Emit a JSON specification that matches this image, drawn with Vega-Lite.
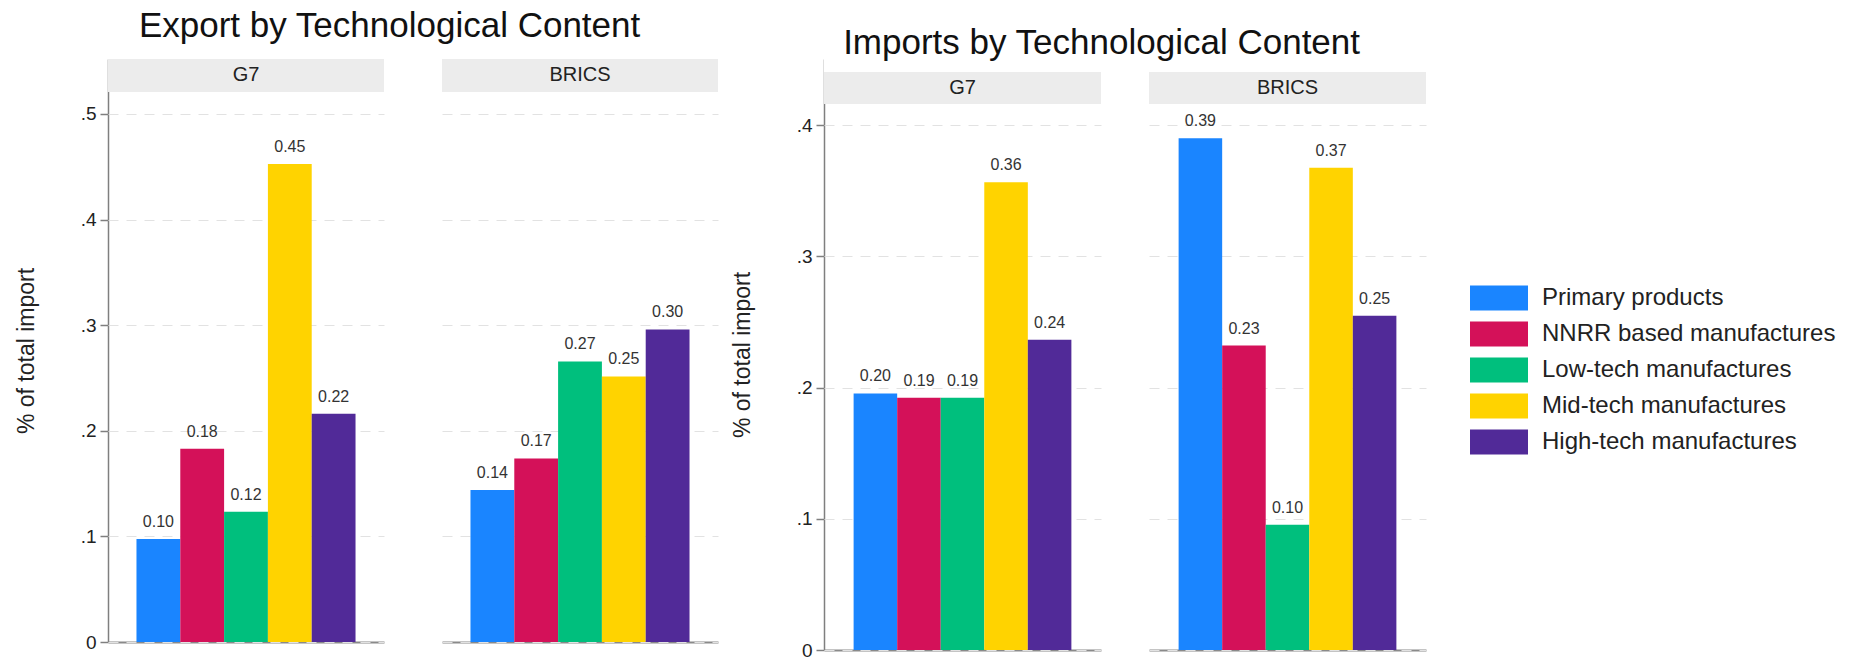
{
  "$schema": "https://vega.github.io/schema/vega-lite/v6.json",
  "padding": {"left": 15, "top": 9, "right": 5, "bottom": 2},
  "background": "white",
  "spacing": 13,
  "config": {
    "view": {"stroke": null},
    "font": "Liberation Sans"
  },
  "datasets": {
    "exports": [
      {"group": "G7", "category": "Primary products", "share": 0.0975},
      {"group": "G7", "category": "NNRR based manufactures", "share": 0.183},
      {"group": "G7", "category": "Low-tech manufactures", "share": 0.1233},
      {"group": "G7", "category": "Mid-tech manufactures", "share": 0.4527},
      {"group": "G7", "category": "High-tech manufactures", "share": 0.216},
      {"group": "BRICS", "category": "Primary products", "share": 0.144},
      {"group": "BRICS", "category": "NNRR based manufactures", "share": 0.1738},
      {"group": "BRICS", "category": "Low-tech manufactures", "share": 0.2657},
      {"group": "BRICS", "category": "Mid-tech manufactures", "share": 0.2514},
      {"group": "BRICS", "category": "High-tech manufactures", "share": 0.296}
    ],
    "imports": [
      {"group": "G7", "category": "Primary products", "share": 0.1955},
      {"group": "G7", "category": "NNRR based manufactures", "share": 0.1923},
      {"group": "G7", "category": "Low-tech manufactures", "share": 0.1922},
      {"group": "G7", "category": "Mid-tech manufactures", "share": 0.3564},
      {"group": "G7", "category": "High-tech manufactures", "share": 0.2365},
      {"group": "BRICS", "category": "Primary products", "share": 0.390},
      {"group": "BRICS", "category": "NNRR based manufactures", "share": 0.232},
      {"group": "BRICS", "category": "Low-tech manufactures", "share": 0.0955},
      {"group": "BRICS", "category": "Mid-tech manufactures", "share": 0.3676},
      {"group": "BRICS", "category": "High-tech manufactures", "share": 0.2548}
    ]
  },
  "hconcat": [
    {
      "title": {"text": "Export by Technological Content", "fontSize": 35, "font": "Liberation Sans", "fontWeight": "normal", "color": "#111", "anchor": "middle", "dx": 23, "offset": 15},
      "data": {"name": "exports"},
      "facet": {"column": {"field": "group", "type": "nominal", "sort": ["G7", "BRICS"], "header": {"labels": false, "title": null, "labelPadding": 0, "titlePadding": 0}}},
      "spacing": {"column": 58},
      "spec": {
        "width": 276,
        "height": 583,
        "layer": [
          {
            "mark": {"type": "bar"},
            "encoding": {
              "x": {"field": "category", "type": "nominal", "sort": ["Primary products", "NNRR based manufactures", "Low-tech manufactures", "Mid-tech manufactures", "High-tech manufactures"], "scale": {"paddingInner": 0, "paddingOuter": 0.65}, "axis": {"labels": false, "ticks": false, "title": null, "domain": true, "domainColor": "#8a8a8a", "domainWidth": 2, "grid": false}},
              "y": {"field": "share", "type": "quantitative", "scale": {"domain": [0, 0.552], "nice": false}, "axis": {"title": "% of total import", "values": [0, 0.1, 0.2, 0.3, 0.4, 0.5], "labelExpr": "datum.value == 0 ? '0' : replace(format(datum.value, '.1f'), '0.', '.')", "grid": true, "gridDash": [10, 8], "gridColor": "#e2e2e2", "domainColor": "#7f7f7f", "domainWidth": 1.5, "tickColor": "#7f7f7f", "tickSize": 8, "tickWidth": 1.5, "labelFontSize": 19, "labelFont": "Liberation Sans", "labelColor": "#222", "labelPadding": 4, "titleFontSize": 23, "titleFont": "Liberation Sans", "titleFontWeight": "normal", "titleColor": "#222", "titlePadding": 42}},
              "color": {"field": "category", "type": "nominal", "scale": {"domain": ["Primary products", "NNRR based manufactures", "Low-tech manufactures", "Mid-tech manufactures", "High-tech manufactures"], "range": ["#1A85FF", "#D41159", "#00BF7D", "#FFD300", "#512A98"]}, "legend": {"orient": "none", "legendX": 1362, "legendY": 221, "title": null, "symbolType": "M-1,-0.431H1V0.431H-1Z", "symbolSize": 3364, "symbolStrokeWidth": 0, "symbolOpacity": 1, "labelFontSize": 24, "labelFont": "Liberation Sans", "labelColor": "#222", "labelOffset": 14, "labelLimit": 500, "rowPadding": 0, "clipHeight": 36, "padding": 0}}
            }
          },
          {
            "mark": {"type": "text", "baseline": "alphabetic", "dy": -12, "fontSize": 16, "font": "Liberation Sans", "color": "#333"},
            "encoding": {
              "x": {"field": "category", "type": "nominal", "sort": ["Primary products", "NNRR based manufactures", "Low-tech manufactures", "Mid-tech manufactures", "High-tech manufactures"]},
              "y": {"field": "share", "type": "quantitative"},
              "text": {"field": "share", "type": "quantitative", "format": ".2f"}
            }
          },
          {
            "transform": [{"aggregate": [{"op": "count", "as": "n"}], "groupby": ["group"]}],
            "mark": {"type": "rect", "color": "#ececec"},
            "encoding": {"y": {"datum": 0.5208}, "y2": {"datum": 0.552}}
          },
          {
            "transform": [{"aggregate": [{"op": "count", "as": "n"}], "groupby": ["group"]}],
            "mark": {"type": "text", "fontSize": 20, "font": "Liberation Sans", "color": "#222", "baseline": "middle"},
            "encoding": {"y": {"datum": 0.5364}, "text": {"field": "group"}}
          }
        ]
      }
    },
    {
      "title": {"text": "Imports by Technological Content", "fontSize": 35, "font": "Liberation Sans", "fontWeight": "normal", "color": "#111", "anchor": "middle", "dx": 23, "offset": -2},
      "data": {"name": "imports"},
      "facet": {"column": {"field": "group", "type": "nominal", "sort": ["G7", "BRICS"], "header": {"labels": false, "title": null, "labelPadding": 0, "titlePadding": 0}}},
      "spacing": {"column": 48},
      "spec": {
        "width": 277,
        "height": 591,
        "layer": [
          {
            "mark": {"type": "bar"},
            "encoding": {
              "x": {"field": "category", "type": "nominal", "sort": ["Primary products", "NNRR based manufactures", "Low-tech manufactures", "Mid-tech manufactures", "High-tech manufactures"], "scale": {"paddingInner": 0, "paddingOuter": 0.68}, "axis": {"labels": false, "ticks": false, "title": null, "domain": true, "domainColor": "#8a8a8a", "domainWidth": 2, "grid": false}},
              "y": {"field": "share", "type": "quantitative", "scale": {"domain": [0, 0.4504], "nice": false}, "axis": {"title": "% of total import", "values": [0, 0.1, 0.2, 0.3, 0.4], "labelExpr": "datum.value == 0 ? '0' : replace(format(datum.value, '.1f'), '0.', '.')", "grid": true, "gridDash": [10, 8], "gridColor": "#e2e2e2", "domainColor": "#7f7f7f", "domainWidth": 1.5, "tickColor": "#7f7f7f", "tickSize": 8, "tickWidth": 1.5, "labelFontSize": 19, "labelFont": "Liberation Sans", "labelColor": "#222", "labelPadding": 4, "titleFontSize": 23, "titleFont": "Liberation Sans", "titleFontWeight": "normal", "titleColor": "#222", "titlePadding": 42}},
              "color": {"field": "category", "type": "nominal", "scale": {"domain": ["Primary products", "NNRR based manufactures", "Low-tech manufactures", "Mid-tech manufactures", "High-tech manufactures"], "range": ["#1A85FF", "#D41159", "#00BF7D", "#FFD300", "#512A98"]}, "legend": {"orient": "none", "legendX": 1362, "legendY": 221, "title": null, "symbolType": "M-1,-0.431H1V0.431H-1Z", "symbolSize": 3364, "symbolStrokeWidth": 0, "symbolOpacity": 1, "labelFontSize": 24, "labelFont": "Liberation Sans", "labelColor": "#222", "labelOffset": 14, "labelLimit": 500, "rowPadding": 0, "clipHeight": 36, "padding": 0}}
            }
          },
          {
            "mark": {"type": "text", "baseline": "alphabetic", "dy": -12, "fontSize": 16, "font": "Liberation Sans", "color": "#333"},
            "encoding": {
              "x": {"field": "category", "type": "nominal", "sort": ["Primary products", "NNRR based manufactures", "Low-tech manufactures", "Mid-tech manufactures", "High-tech manufactures"]},
              "y": {"field": "share", "type": "quantitative"},
              "text": {"field": "share", "type": "quantitative", "format": ".2f"}
            }
          },
          {
            "transform": [{"aggregate": [{"op": "count", "as": "n"}], "groupby": ["group"]}],
            "mark": {"type": "rect", "color": "white"},
            "encoding": {"y": {"datum": 0.4405}, "y2": {"datum": 0.4504}}
          },
          {
            "transform": [{"aggregate": [{"op": "count", "as": "n"}], "groupby": ["group"]}],
            "mark": {"type": "rect", "color": "#ececec"},
            "encoding": {"y": {"datum": 0.4161}, "y2": {"datum": 0.4405}}
          },
          {
            "transform": [{"aggregate": [{"op": "count", "as": "n"}], "groupby": ["group"]}],
            "mark": {"type": "text", "fontSize": 20, "font": "Liberation Sans", "color": "#222", "baseline": "middle"},
            "encoding": {"y": {"datum": 0.4283}, "text": {"field": "group"}}
          }
        ]
      }
    }
  ],
  "resolve": {"scale": {"color": "shared"}}
}
